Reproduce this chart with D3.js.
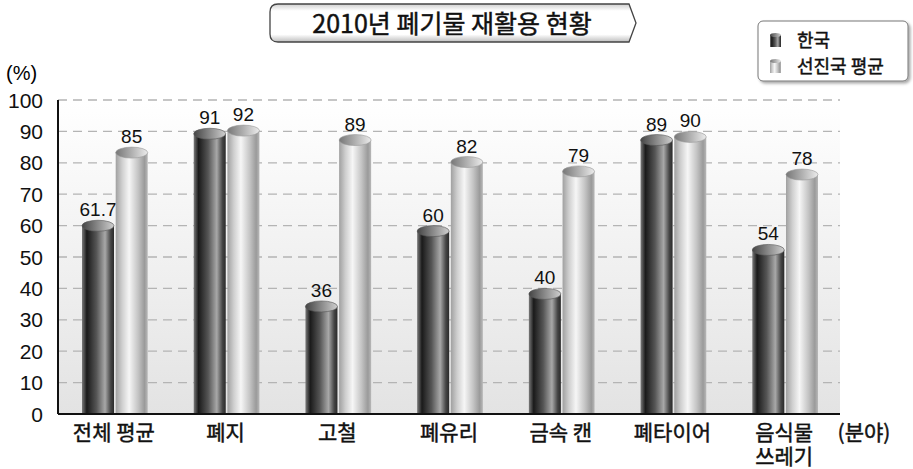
<!DOCTYPE html>
<html>
<head>
<meta charset="utf-8">
<script src="https://cdn.jsdelivr.net/npm/d3@7"></script>
<style>
  body { margin: 0; background: #fff; }
  svg { display: block; font-family: "Liberation Sans", Arial, "Noto Sans CJK KR", sans-serif; }
  .kr { font-family: "Noto Sans CJK KR", sans-serif; stroke: #111; stroke-width: 0.45; }
</style>
</head>
<body>
<div id="chart"></div>
<script>
const categories = [["전체 평균"], ["폐지"], ["고철"], ["폐유리"], ["금속 캔"], ["폐타이어"], ["음식물", "쓰레기"]];
const korea = [61.7, 91, 36, 60, 40, 89, 54];
const advanced = [85, 92, 89, 82, 79, 90, 78];
const series = ["한국", "선진국 평균"];
const yTicks = [0, 10, 20, 30, 40, 50, 60, 70, 80, 90, 100];

const W = 913, H = 469;
const margin = {top: 100, right: 73, bottom: 55, left: 58};
const width = W - margin.left - margin.right;
const height = H - margin.top - margin.bottom;

const svg = d3.select("#chart").append("svg")
  .attr("width", W).attr("height", H);

const defs = svg.append("defs");

function hGrad(id, stops) {
  const g = defs.append("linearGradient").attr("id", id)
    .attr("x1", 0).attr("x2", 1).attr("y1", 0).attr("y2", 0);
  stops.forEach(s => g.append("stop").attr("offset", s[0]).attr("stop-color", s[1]));
}
hGrad("darkBody", [[0, "#7a7a7a"], [0.15, "#1a1a1a"], [0.45, "#555"], [0.72, "#a8a8a8"], [0.9, "#444"], [1, "#2a2a2a"]]);
hGrad("lightBody", [[0, "#a0a0a0"], [0.2, "#cfcfcf"], [0.42, "#f6f6f6"], [0.7, "#c4c4c4"], [0.9, "#9a9a9a"], [1, "#b8b8b8"]]);
hGrad("darkTop", [[0, "#444"], [0.5, "#8a8a8a"], [1, "#cfcfcf"]]);
hGrad("lightTop", [[0, "#777"], [0.5, "#b0b0b0"], [1, "#ececec"]]);

const bg = defs.append("linearGradient").attr("id", "plotBg")
  .attr("x1", 0).attr("x2", 0).attr("y1", 0).attr("y2", 1);
bg.append("stop").attr("offset", 0).attr("stop-color", "#ffffff");
bg.append("stop").attr("offset", 1).attr("stop-color", "#e3e3e3");

const tg = defs.append("linearGradient").attr("id", "titleBg")
  .attr("x1", 0).attr("x2", 0).attr("y1", 0).attr("y2", 1);
tg.append("stop").attr("offset", 0).attr("stop-color", "#cfcfcf");
tg.append("stop").attr("offset", 0.18).attr("stop-color", "#ffffff");
tg.append("stop").attr("offset", 0.8).attr("stop-color", "#ffffff");
tg.append("stop").attr("offset", 1).attr("stop-color", "#bdbdbd");

const shadow = defs.append("filter").attr("id", "shadow")
  .attr("x", "-10%").attr("y", "-10%").attr("width", "130%").attr("height", "140%");
shadow.append("feDropShadow").attr("dx", 2).attr("dy", 2).attr("stdDeviation", 1.5)
  .attr("flood-color", "#000").attr("flood-opacity", 0.35);

const g = svg.append("g").attr("transform", `translate(${margin.left},${margin.top})`);

const x0 = d3.scaleBand().domain(d3.range(categories.length)).range([0, width]);
const x1 = d3.scaleBand().domain([0, 1]).range([24, x0.bandwidth() - 22]).paddingInner(0.05);
const y = d3.scaleLinear().domain([0, 100]).range([height, 0]);

// plot background
g.append("rect").attr("width", width).attr("height", height).attr("fill", "url(#plotBg)");

// gridlines
g.append("g").selectAll("line").data(yTicks.filter(d => d > 0)).join("line")
  .attr("x1", 0).attr("x2", width)
  .attr("y1", d => y(d)).attr("y2", d => y(d))
  .attr("stroke", "#b4b4b4").attr("stroke-width", 1.3).attr("stroke-dasharray", "9,6");

// y tick labels
g.append("g").selectAll("text").data(yTicks).join("text")
  .attr("x", -15).attr("y", d => y(d)).attr("dy", "0.36em")
  .attr("text-anchor", "end").attr("font-size", 21).attr("fill", "#111")
  .text(d => d);

svg.append("text").attr("x", 6).attr("y", 80).attr("font-size", 20).text("(%)");

// bars
const ry = 5.5;
const data = [];
categories.forEach((c, i) => {
  data.push({i, s: 0, v: korea[i]});
  data.push({i, s: 1, v: advanced[i]});
});

const bars = g.append("g").selectAll("g").data(data).join("g")
  .attr("transform", d => `translate(${x0(d.i) + x1(d.s)},0)`);

bars.append("rect")
  .attr("x", 0).attr("width", x1.bandwidth())
  .attr("y", d => y(d.v) + ry).attr("height", d => height - y(d.v) - ry)
  .attr("fill", d => d.s === 0 ? "url(#darkBody)" : "url(#lightBody)");

bars.append("ellipse")
  .attr("cx", x1.bandwidth() / 2).attr("cy", d => y(d.v) + ry)
  .attr("rx", x1.bandwidth() / 2).attr("ry", ry)
  .attr("fill", d => d.s === 0 ? "url(#darkTop)" : "url(#lightTop)")
  .attr("stroke", d => d.s === 0 ? "#555" : "#999").attr("stroke-width", 0.6);

bars.append("text")
  .attr("x", x1.bandwidth() / 2).attr("y", d => y(d.v) - 4)
  .attr("text-anchor", "middle").attr("font-size", 19).attr("fill", "#111")
  .text(d => d.v);

// axes lines
g.append("line").attr("x1", 0).attr("x2", width).attr("y1", height).attr("y2", height)
  .attr("stroke", "#111").attr("stroke-width", 2);
g.append("line").attr("x1", 0).attr("x2", 0).attr("y1", 0).attr("y2", height)
  .attr("stroke", "#111").attr("stroke-width", 2);

// category labels
const cat = g.append("g").selectAll("text").data(categories).join("text")
  .attr("class", "kr")
  .attr("x", (d, i) => x0(i) + x0.bandwidth() / 2)
  .attr("y", height + 26)
  .attr("text-anchor", "middle").attr("font-size", 21).attr("fill", "#111");
cat.selectAll("tspan").data(d => d).join("tspan")
  .attr("x", function() { return d3.select(this.parentNode).attr("x"); })
  .attr("dy", (d, j) => j === 0 ? 0 : 24)
  .text(d => d);

svg.append("text").attr("class", "kr")
  .attr("x", 864).attr("y", 440).attr("text-anchor", "middle")
  .attr("font-size", 21).attr("fill", "#111").text("(분야)");

// title
const tx0 = 270, tx1 = 629, ty0 = 4, ty1 = 42, r = 8;
svg.append("path")
  .attr("d", `M${tx0 + r},${ty0} L${tx1},${ty0} L${tx1 + 7},${(ty0 + ty1) / 2} L${tx1},${ty1} L${tx0 + r},${ty1} Q${tx0},${ty1} ${tx0},${ty1 - r} L${tx0},${ty0 + r} Q${tx0},${ty0} ${tx0 + r},${ty0} Z`)
  .attr("fill", "url(#titleBg)").attr("stroke", "#444").attr("stroke-width", 1.3);
svg.append("text").attr("class", "kr")
  .attr("x", 452).attr("y", 33).attr("text-anchor", "middle")
  .attr("font-size", 25).attr("fill", "#111").text("2010년 폐기물 재활용 현황");

// legend
const lg = svg.append("g").attr("transform", "translate(758,21)");
lg.append("rect").attr("width", 150).attr("height", 60).attr("rx", 5)
  .attr("fill", "#fff").attr("stroke", "#777").attr("filter", "url(#shadow)");
const li = lg.selectAll("g.item").data(series).join("g").attr("class", "item")
  .attr("transform", (d, i) => `translate(12,${12 + i * 26})`);
li.append("rect").attr("x", 0).attr("y", 2).attr("width", 11).attr("height", 12)
  .attr("fill", (d, i) => i === 0 ? "url(#darkBody)" : "url(#lightBody)");
li.append("ellipse").attr("cx", 5.5).attr("cy", 2).attr("rx", 5.5).attr("ry", 2)
  .attr("fill", (d, i) => i === 0 ? "url(#darkTop)" : "url(#lightTop)");
li.append("text").attr("class", "kr").attr("x", 27).attr("y", 14)
  .attr("font-size", 18).attr("fill", "#111").text(d => d);
</script>
</body>
</html>
